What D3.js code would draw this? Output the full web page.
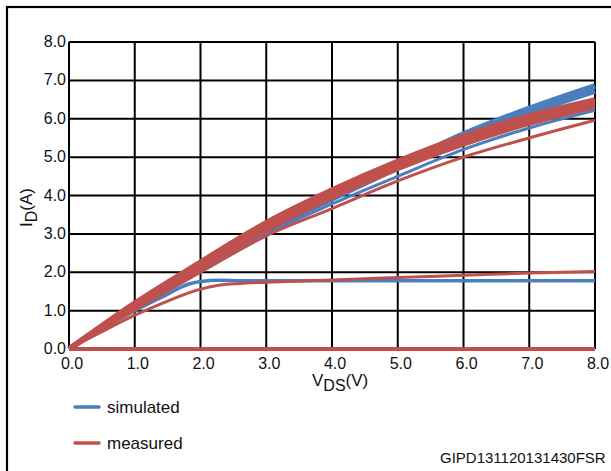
<!DOCTYPE html>
<html>
  <head>
    <meta charset="utf-8">
    <title>ID vs VDS</title>
    <script src="https://d3js.org/d3.v7.min.js"></script>
    <style>
      body { margin: 0; background: #fff; }
      text { font-family: "Liberation Sans", Arial, sans-serif; fill: #111; }
    </style>
  </head>
  <body>
    <svg width="611" height="471"></svg>
    <script>
      // values
      var vdsGrid = [0, 1, 2, 3, 4, 5, 6, 7, 8];
      var vdsKnee = [0, 0.5, 1, 1.5, 1.8, 2, 2.3, 2.6, 3, 4, 5, 6, 7, 8];

      var simTop1 = [0, 1.15, 2.2, 3.15, 3.98, 4.8, 5.6, 6.27, 6.86];
      var simTop2 = [0, 1.13, 2.16, 3.09, 3.91, 4.72, 5.5, 6.15, 6.72];
      var simMid  = [0, 1.05, 2.05, 3.0, 3.78, 4.5, 5.2, 5.76, 6.22];
      var simSat  = [0, 0.52, 1.0, 1.43, 1.68, 1.76, 1.79, 1.78, 1.78, 1.78, 1.78, 1.78, 1.78, 1.78];
      var simZero = [0, 0, 0, 0, 0, 0, 0, 0, 0];

      var measA   = [0, 1.2, 2.27, 3.3, 4.15, 4.9, 5.55, 6.08, 6.5];
      var measB   = [0, 1.16, 2.2, 3.2, 4.05, 4.8, 5.44, 5.98, 6.41];
      var measC   = [0, 1.12, 2.12, 3.1, 3.95, 4.7, 5.34, 5.88, 6.32];
      var measLow = [0, 1.02, 2.0, 2.95, 3.66, 4.38, 5.0, 5.5, 5.96];
      var measSat = [0, 0.45, 0.88, 1.25, 1.45, 1.56, 1.67, 1.71, 1.74, 1.8, 1.86, 1.92, 1.98, 2.02];
      var measZero = [0, 0, 0, 0, 0, 0, 0, 0, 0];

      var xTicks = [0, 1, 2, 3, 4, 5, 6, 7, 8];
      var yTicks = [0, 1, 2, 3, 4, 5, 6, 7, 8];

      var blue = "#4a7ebf";
      var red = "#c0504d";

      var svg = d3.select("svg");

      // outer frame, only left and top edges show in the window
      svg.append("rect")
        .attr("x", 7).attr("y", 7)
        .attr("width", 800).attr("height", 800)
        .attr("fill", "none").attr("stroke", "#000").attr("stroke-width", 2.2);

      var x = d3.scaleLinear().domain([0, 8]).range([69, 595]);
      var y = d3.scaleLinear().domain([0, 8]).range([349, 42]);

      // grid
      var grid = svg.append("g");
      grid.selectAll(".vx").data(xTicks).enter().append("line")
        .attr("x1", function(d) { return x(d); }).attr("x2", function(d) { return x(d); })
        .attr("y1", y(0)).attr("y2", y(8))
        .attr("stroke", "#000").attr("stroke-width", 2);
      grid.selectAll(".hy").data(yTicks).enter().append("line")
        .attr("y1", function(d) { return y(d); }).attr("y2", function(d) { return y(d); })
        .attr("x1", x(0)).attr("x2", x(8))
        .attr("stroke", "#000").attr("stroke-width", 2);

      // tick labels
      svg.selectAll(".yl").data(yTicks).enter().append("text")
        .attr("x", 66).attr("y", function(d) { return y(d) + 5; })
        .attr("text-anchor", "end").attr("font-size", 16)
        .text(function(d) { return d.toFixed(1); });
      svg.selectAll(".xl").data(xTicks).enter().append("text")
        .attr("x", function(d) { return x(d) + 3; }).attr("y", 369)
        .attr("text-anchor", "middle").attr("font-size", 16)
        .text(function(d) { return d.toFixed(1); });

      // axis titles
      var xt = svg.append("text").attr("x", 312).attr("y", 386).attr("font-size", 17);
      xt.append("tspan").text("V");
      xt.append("tspan").attr("dy", 5).attr("font-size", 16).text("DS");
      xt.append("tspan").attr("dy", -5).text("(V)");

      var yt = svg.append("text")
        .attr("transform", "translate(32,227) rotate(-90)")
        .attr("font-size", 17);
      yt.append("tspan").text("I");
      yt.append("tspan").attr("dy", 5).attr("font-size", 16).text("D");
      yt.append("tspan").attr("dy", -5).text("(A)");

      // curves
      var line = d3.line()
        .x(function(d) { return x(d[0]); })
        .y(function(d) { return y(d[1]); })
        .curve(d3.curveMonotoneX);

      function draw(xs, ys, color, w) {
        svg.append("path")
          .datum(d3.zip(xs, ys))
          .attr("d", line)
          .attr("fill", "none")
          .attr("stroke", color)
          .attr("stroke-width", w)
          .attr("stroke-linejoin", "round");
      }

      draw(vdsGrid, simZero, blue, 3);
      draw(vdsGrid, simTop1, blue, 5.5);
      draw(vdsGrid, simTop2, blue, 5.5);
      draw(vdsGrid, simMid, blue, 3);
      draw(vdsKnee, simSat, blue, 3.5);

      draw(vdsKnee, measSat, red, 3);
      draw(vdsGrid, measLow, red, 3);
      draw(vdsGrid, measC, red, 5);
      draw(vdsGrid, measB, red, 5);
      draw(vdsGrid, measA, red, 5);
      draw(vdsGrid, measZero, red, 4);

      // legend
      var legend = [["simulated", blue, 407], ["measured", red, 443]];
      legend.forEach(function(l) {
        svg.append("line")
          .attr("x1", 75).attr("x2", 99)
          .attr("y1", l[2]).attr("y2", l[2])
          .attr("stroke", l[1]).attr("stroke-width", 3.5)
          .attr("stroke-linecap", "round");
        svg.append("text")
          .attr("x", 107).attr("y", l[2] + 6)
          .attr("font-size", 17)
          .text(l[0]);
      });

      svg.append("text")
        .attr("x", 440).attr("y", 463)
        .attr("font-size", 15)
        .text("GIPD131120131430FSR");
    </script>
  </body>
</html>
